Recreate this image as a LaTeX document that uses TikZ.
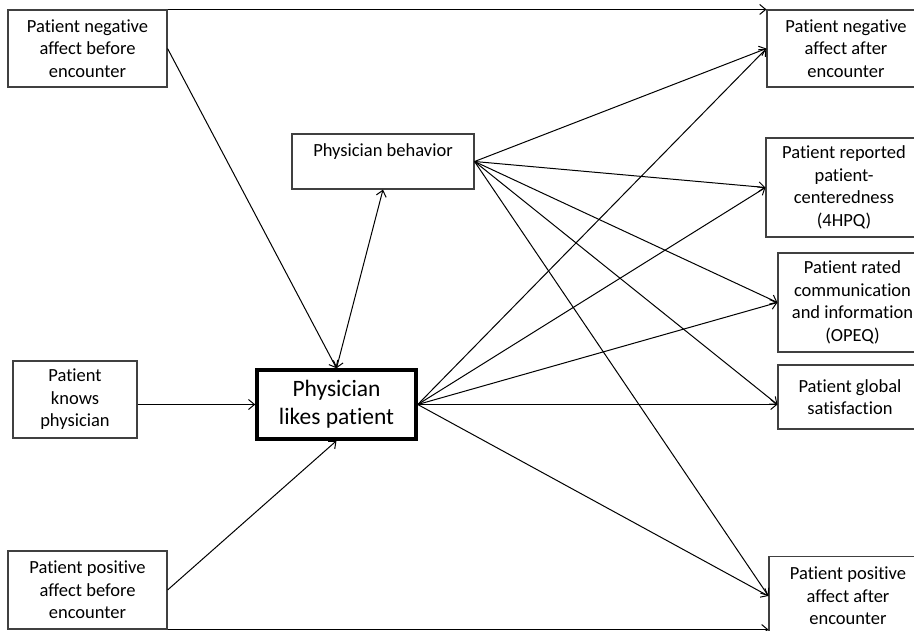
\documentclass[tikz,border=0pt]{standalone}
\usepackage{fontspec}
\setmainfont[Ligatures=NoCommon]{Carlito}
\usetikzlibrary{arrows.meta}
\begin{document}
\begin{tikzpicture}[x=1pt,y=-1pt,
  >={Straight Barb[length=6pt,width=10pt]},
  box/.style={draw=black!75, line width=1.1pt, align=center, inner sep=0pt,
    font=\fontsize{18.5}{22.5}\selectfont},
  mainbox/.style={draw=black, line width=3.5pt, align=center, inner sep=0pt,
    font=\fontsize{23.5}{28}\selectfont},
  arr/.style={->, line width=1pt, black}]
\useasboundingbox (0,0) rectangle (914,630);
\clip (0,0) rectangle (914,630);
% left column
\node[box, minimum width=159pt, minimum height=77pt] (negb) at (87.5,48.5) {Patient negative\\affect before\\encounter};
\node[box, minimum width=124pt, minimum height=77pt] (know) at (75,399.5) {Patient\\knows\\physician};
\node[box, minimum width=159pt, minimum height=78pt] (posb) at (87.5,590) {Patient positive\\affect before\\encounter};
% middle
\node[box, minimum width=182pt, minimum height=55pt] (beh) at (383,161.5) {Physician behavior\\\mbox{}};
\node[mainbox, minimum width=159pt, minimum height=69pt] (likes) at (336.5,404.5) {Physician\\likes patient};
% right column
\node[box, minimum width=158pt, minimum height=77pt] (nega) at (846,48.5) {Patient negative\\affect after\\encounter};
\node[box, minimum width=156pt, minimum height=99pt] (hpq) at (844,187.5) {Patient reported\\patient-\\centeredness\\(4HPQ)};
\node[box, minimum width=149pt, minimum height=99pt] (opeq) at (852.5,302.5) {Patient rated\\communication\\and information\\(OPEQ)};
\node[box, minimum width=144pt, minimum height=64pt] (glob) at (850,397) {Patient global\\satisfaction};
\node[box, minimum width=158pt, minimum height=79pt] (posa) at (848,596) {Patient positive\\affect after\\encounter};
% connectors
\coordinate (globin) at (likes.east -| glob.west);
\coordinate (posain) at (posb.south east -| posa.west);
\draw[arr] (negb.north east) -- (nega.north west);
\draw[arr] (posb.south east) -- (posain);
\draw[arr] (negb.east) -- (likes.north);
\draw[arr] (know.east |- likes.west) -- (likes.west);
\draw[arr] (posb.east) -- (likes.south);
\draw[arr, <->] (likes.north) -- (beh.south);
\foreach \t in {nega.west, hpq.west, opeq.west, globin, posa.west}{
  \draw[arr] (beh.east) -- (\t);
  \draw[arr] (likes.east) -- (\t);
}
\end{tikzpicture}
\end{document}
